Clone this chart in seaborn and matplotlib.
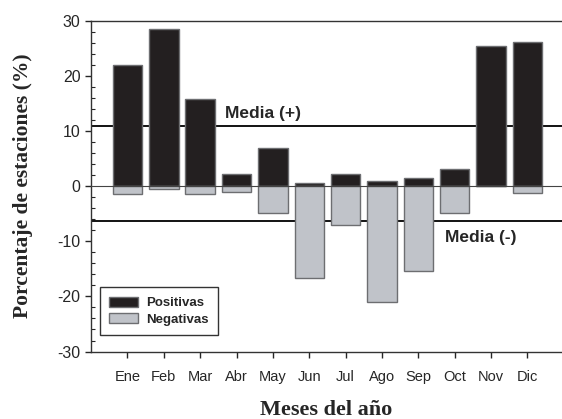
import numpy as np
import matplotlib
matplotlib.use("Agg")
import matplotlib.pyplot as plt
from matplotlib.ticker import MultipleLocator
import seaborn as sns

# Data
meses = ["Ene", "Feb", "Mar", "Abr", "May", "Jun", "Jul", "Ago", "Sep", "Oct", "Nov", "Dic"]
positivas = [22.0, 28.5, 15.8, 2.1, 6.9, 0.5, 2.1, 0.9, 1.45, 3.1, 25.4, 26.1]
negativas = [-1.5, -0.55, -1.45, -1.1, -4.8, -16.7, -7.1, -21.1, -15.35, -4.8, 0.0, -1.3]
media_pos = 10.9
media_neg = -6.35

sns.set_style("ticks")
plt.rcParams['font.family'] = ['Liberation Sans', 'DejaVu Sans']
plt.rcParams['axes.unicode_minus'] = False

fig = plt.figure(figsize=(5.62, 4.19), dpi=100)
ax = fig.add_axes([0.162, 0.161, 0.838, 0.790])

# Bars
sns.barplot(x=meses, y=positivas, order=meses, color="#231f20", edgecolor="#6d6e71",
            linewidth=1, width=0.81, saturation=1, ax=ax, label="Positivas", zorder=3)
sns.barplot(x=meses, y=negativas, order=meses, color="#c0c3c9", edgecolor="#6d6e71",
            linewidth=1, width=0.81, saturation=1, ax=ax, label="Negativas", zorder=3)

# Reference lines
ax.axhline(0, color="#444444", lw=0.8, zorder=4)
ax.axhline(media_pos, color="black", lw=1.3, zorder=2)
ax.axhline(media_neg, color="black", lw=1.3, zorder=2)
ax.text(2.68, 13.2, "Media (+)", fontsize=12.5, fontweight="bold", va="center", ha="left")
ax.text(8.74, -9.4, "Media (-)", fontsize=12.5, fontweight="bold", va="center", ha="left")

# Axes setup
ax.set_xlim(-1, 11.95)
ax.set_ylim(-30, 30)
ax.yaxis.set_major_locator(MultipleLocator(10))
ax.yaxis.set_minor_locator(MultipleLocator(2))
ax.tick_params(axis="y", which="major", direction="out", length=4, width=1, labelsize=11.5)
ax.tick_params(axis="y", which="minor", direction="in", length=3, width=0.8)
ax.tick_params(axis="x", which="major", direction="out", length=4, width=1, labelsize=10.5, pad=9)

for side in ["left", "bottom", "top"]:
    ax.spines[side].set_color("#333333")
    ax.spines[side].set_linewidth(1)
ax.spines["right"].set_visible(False)

ax.set_xlabel("Meses del año", family="Liberation Serif", fontweight="bold",
              fontsize=16, labelpad=12)
ax.set_ylabel("Porcentaje de estaciones (%)", family="Liberation Serif",
              fontweight="bold", fontsize=15.5, labelpad=18)

leg = ax.legend(loc="lower left", bbox_to_anchor=(0.019, 0.05), frameon=True,
                fancybox=False, edgecolor="#333333", framealpha=1,
                prop=dict(weight="bold", size=9.5), handlelength=2.2,
                handleheight=0.8, borderpad=0.7, labelspacing=0.3,
                handletextpad=0.6, borderaxespad=0)
leg.get_frame().set_linewidth(1)

plt.savefig("out.png", dpi=100)
